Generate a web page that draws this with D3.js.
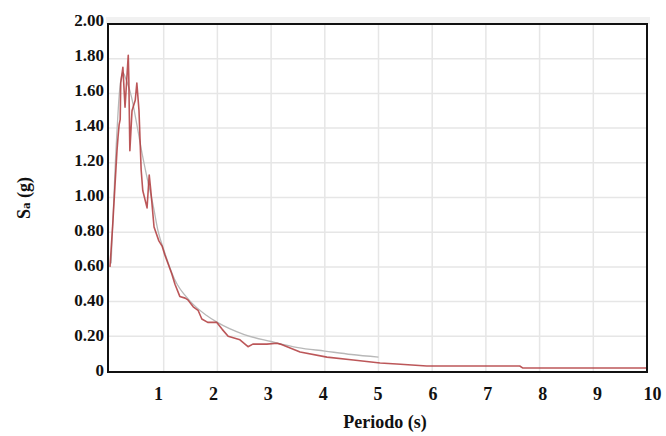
<!DOCTYPE html>
<html>
<head>
<meta charset="utf-8">
<script src="https://cdn.jsdelivr.net/npm/d3@7"></script>
<style>
  body { margin: 0; background: #fff; }
  .tick-label { font-family: "Liberation Serif", "Times New Roman", serif; font-weight: bold; fill: #111; }
</style>
</head>
<body>
<div id="chart"></div>
<script>
// recorded spectrum (red) - period (s), Sa (g)
const recordT  = [0.00, 0.056, 0.13, 0.15, 0.17, 0.19, 0.20, 0.24, 0.28, 0.32, 0.34, 0.35, 0.37, 0.41, 0.47, 0.50, 0.54,
                  0.58, 0.61, 0.69, 0.73, 0.76, 0.82, 0.91, 0.97, 1.02, 1.08, 1.15, 1.21, 1.30, 1.40, 1.45, 1.55, 1.64,
                  1.71, 1.82, 1.99, 2.09, 2.20, 2.42, 2.57, 2.66, 2.92, 3.11, 3.17, 3.54, 4.04, 4.53, 5.03, 5.34,
                  5.90, 7.63, 7.69, 10.0];
const recordSa = [0.60, 0.87, 1.27, 1.35, 1.42, 1.45, 1.66, 1.75, 1.52, 1.72, 1.82, 1.69, 1.27, 1.50, 1.56, 1.66, 1.50,
                  1.16, 1.04, 0.94, 1.13, 1.04, 0.83, 0.75, 0.72, 0.67, 0.62, 0.56, 0.50, 0.43, 0.42, 0.41, 0.37, 0.35,
                  0.30, 0.28, 0.28, 0.24, 0.20, 0.18, 0.14, 0.155, 0.155, 0.16, 0.155, 0.11, 0.08, 0.063, 0.046, 0.04,
                  0.029, 0.029, 0.017, 0.017];

// target spectrum (grey)
const targetT  = [0.02, 0.10, 0.18, 0.24, 0.30, 0.40, 0.50, 0.60, 0.70, 0.80, 0.90, 1.00, 1.20, 1.50, 1.80,
                  2.00, 2.50, 3.00, 3.50, 4.00, 4.50, 5.00];
const targetSa = [0.62, 1.20, 1.62, 1.72, 1.68, 1.58, 1.42, 1.25, 1.10, 0.96, 0.80, 0.70, 0.53, 0.40, 0.32,
                  0.28, 0.21, 0.17, 0.135, 0.115, 0.095, 0.08];

const xTicks = [1, 2, 3, 4, 5, 6, 7, 8, 9, 10];
const yTicks = [0, 0.2, 0.4, 0.6, 0.8, 1.0, 1.2, 1.4, 1.6, 1.8, 2.0];

const W = 666, H = 436;
const svg = d3.select("#chart").append("svg")
    .attr("width", W)
    .attr("height", H);

const x = d3.scaleLinear().domain([0, 10]).range([110, 647]);
const y = d3.scaleLinear().domain([0, 2]).range([371, 24]);
// tick labels sit slightly off the grid in the original
const xLab = d3.scaleLinear().domain([1, 10]).range([158, 652]);
const yLab = d3.scaleLinear().domain([0, 2]).range([370, 20]);

// faint shadow band over the frame
svg.append("rect")
   .attr("x", 106).attr("y", 17)
   .attr("width", 544).attr("height", 7)
   .attr("fill", "#f1f1f1");

// grid
svg.append("g")
   .selectAll("line")
   .data(xTicks.slice(0, -1))
   .join("line")
   .attr("x1", d => x(d)).attr("x2", d => x(d))
   .attr("y1", 24).attr("y2", 372)
   .attr("stroke", "#e6e6e6").attr("stroke-width", 1.5);

svg.append("g")
   .selectAll("line")
   .data(yTicks.slice(1, -1))
   .join("line")
   .attr("x1", 108).attr("x2", 647)
   .attr("y1", d => y(d)).attr("y2", d => y(d))
   .attr("stroke", "#e6e6e6").attr("stroke-width", 1.5);

// lines
const line = d3.line()
    .x(d => x(d[0]))
    .y(d => y(d[1]));

svg.append("path")
   .datum(d3.zip(targetT, targetSa))
   .attr("fill", "none")
   .attr("stroke", "#b8b8b8")
   .attr("stroke-width", 1.3)
   .attr("d", line.curve(d3.curveMonotoneX));

svg.append("path")
   .datum(d3.zip(recordT, recordSa))
   .attr("fill", "none")
   .attr("stroke", "#b03a3c")
   .attr("stroke-width", 1.6)
   .attr("stroke-opacity", 0.85)
   .attr("stroke-linejoin", "round")
   .attr("d", line.curve(d3.curveLinear));

// frame
svg.append("rect")
   .attr("x", 108).attr("y", 24)
   .attr("width", 539).attr("height", 348)
   .attr("fill", "none")
   .attr("stroke", "#111")
   .attr("stroke-width", 2);

// tick labels
const xAxis = svg.append("g")
   .attr("transform", "translate(0,400)")
   .call(d3.axisBottom(xLab).tickValues(xTicks).tickSize(0).tickFormat(d3.format("d")));
xAxis.select(".domain").remove();
xAxis.selectAll("text")
   .attr("class", "tick-label")
   .attr("y", 0)
   .attr("dy", 0)
   .style("font-size", "18px");

const yAxis = svg.append("g")
   .attr("transform", "translate(104,0)")
   .call(d3.axisLeft(yLab).tickValues(yTicks).tickSize(0)
          .tickFormat(d => d === 0 ? "0" : d3.format(".2f")(d)));
yAxis.select(".domain").remove();
yAxis.selectAll("text")
   .attr("class", "tick-label")
   .attr("x", 0)
   .attr("dy", "0.35em")
   .style("font-size", "17px");

// axis titles
svg.append("text")
   .attr("class", "tick-label")
   .attr("x", 385).attr("y", 428)
   .attr("text-anchor", "middle")
   .style("font-size", "18px")
   .text("Periodo (s)");

const yt = svg.append("text")
   .attr("class", "tick-label")
   .attr("transform", "translate(30,198) rotate(-90)")
   .attr("text-anchor", "middle")
   .style("font-size", "18px");
yt.append("tspan").text("S");
yt.append("tspan").style("font-size", "13px").text("a");
yt.append("tspan").text(" (g)");
</script>
</body>
</html>
